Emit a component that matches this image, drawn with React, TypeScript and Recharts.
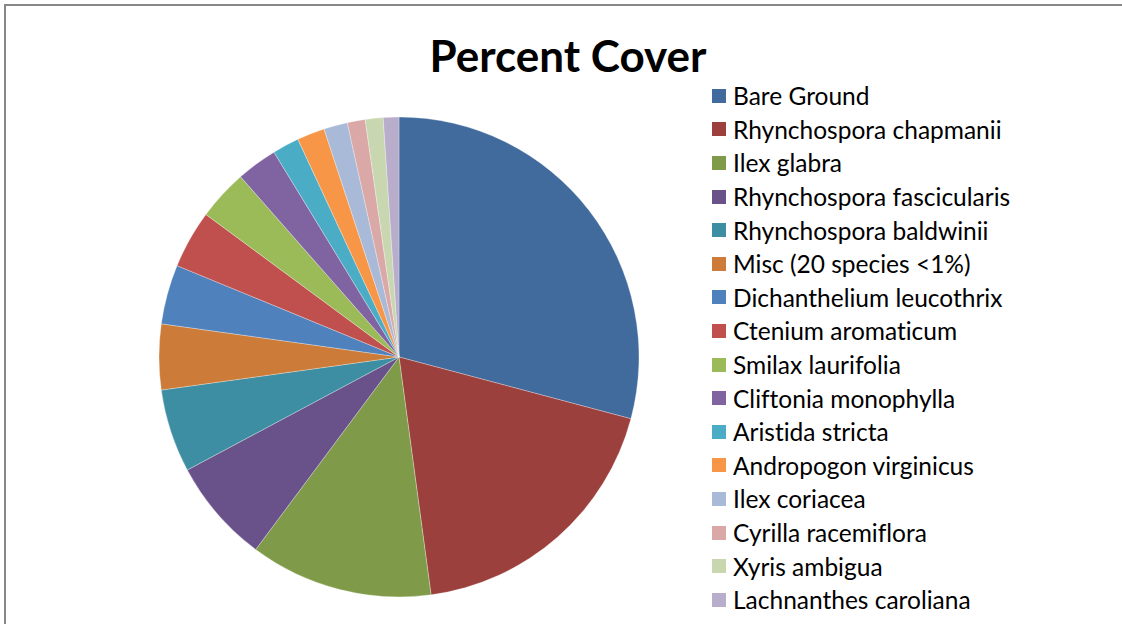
import React from "react";
import { PieChart, Pie, Cell } from "recharts";

const species = [
  "Bare Ground",
  "Rhynchospora chapmanii",
  "Ilex glabra",
  "Rhynchospora fascicularis",
  "Rhynchospora baldwinii",
  "Misc (20 species <1%)",
  "Dichanthelium leucothrix",
  "Ctenium aromaticum",
  "Smilax laurifolia",
  "Cliftonia monophylla",
  "Aristida stricta",
  "Andropogon virginicus",
  "Ilex coriacea",
  "Cyrilla racemiflora",
  "Xyris ambigua",
  "Lachnanthes caroliana",
];

const cover = [29.1, 18.7, 12.3, 7.0, 5.6, 4.4, 4.0, 3.9, 3.4, 2.75, 1.8, 1.86, 1.6, 1.2, 1.2, 1.05];

const colors = [
  "#416A9D",
  "#9C403D",
  "#7F9A48",
  "#69518A",
  "#3D8DA3",
  "#CC7B38",
  "#4F81BD",
  "#C0504D",
  "#9BBB59",
  "#8064A2",
  "#4BACC6",
  "#F79646",
  "#A9BAD8",
  "#D9A8A7",
  "#C9D7B0",
  "#B8ADCB",
];

const data = species.map((name, i) => ({ name, value: cover[i] }));

const FONT = "Lato, 'Open Sans', sans-serif";

// legend drawn outside the chart so it doesn't shift the pie
const LegendList = () => (
  <div style={{ position: "absolute", left: 712, top: 79 }}>
    {species.map((name, i) => (
      <div
        key={name}
        style={{ display: "flex", alignItems: "center", height: 33.6 }}
      >
        <span
          style={{
            width: 14,
            height: 14,
            background: colors[i],
            marginRight: 7,
            flexShrink: 0,
          }}
        />
        <span style={{ fontSize: 24.5, color: "#000", whiteSpace: "nowrap" }}>
          {name}
        </span>
      </div>
    ))}
  </div>
);

export default function App() {
  return (
    <div
      style={{
        position: "absolute",
        left: 0,
        top: 0,
        width: 1122,
        height: 624,
        background: "#fff",
        fontFamily: FONT,
        fontVariantLigatures: "none",
        overflow: "hidden",
      }}
    >
      <div
        style={{
          position: "absolute",
          left: 4,
          top: 4,
          width: 1118,
          height: 620,
          borderTop: "2px solid #878787",
          borderLeft: "2px solid #878787",
        }}
      />
      <div
        style={{
          position: "absolute",
          left: 368,
          width: 400,
          top: 29,
          textAlign: "center",
          fontSize: 44,
          fontWeight: 700,
          color: "#000",
        }}
      >
        Percent Cover
      </div>
      <PieChart
        width={1122}
        height={624}
        margin={{ top: 0, right: 0, bottom: 0, left: 0 }}
        style={{ position: "absolute", left: 0, top: 0 }}
      >
        <Pie
          data={data}
          dataKey="value"
          nameKey="name"
          cx={399}
          cy={357}
          outerRadius={240}
          startAngle={90}
          endAngle={-270}
          stroke="#fff"
          strokeWidth={0.3}
          isAnimationActive={false}
        >
          {data.map((d, i) => (
            <Cell key={d.name} fill={colors[i]} />
          ))}
        </Pie>
      </PieChart>
      <LegendList />
    </div>
  );
}
